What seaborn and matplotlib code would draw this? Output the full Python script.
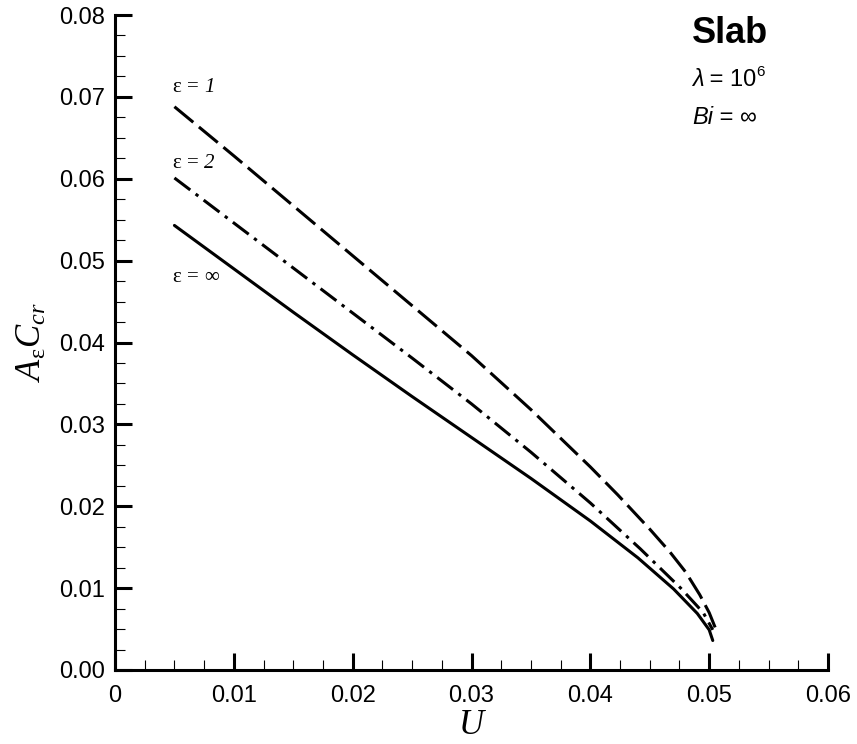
import numpy as np
import pandas as pd
import matplotlib
matplotlib.use("Agg")
import matplotlib.pyplot as plt
from matplotlib.ticker import MultipleLocator
import seaborn as sns

# === data ===
u_eps1 = [0.005, 0.010, 0.015, 0.020, 0.025, 0.030, 0.035, 0.040, 0.0423, 0.045, 0.0467, 0.048, 0.0492, 0.0500, 0.0505]
c_eps1 = [0.0688, 0.0628, 0.0567, 0.0506, 0.0445, 0.0384, 0.0318, 0.0248, 0.0214, 0.0172, 0.0144, 0.0120, 0.0092, 0.0070, 0.0052]

u_eps2 = [0.005, 0.010, 0.015, 0.020, 0.025, 0.030, 0.035, 0.040, 0.0442, 0.0476, 0.0495, 0.0503]
c_eps2 = [0.0601, 0.0546, 0.0491, 0.0436, 0.0381, 0.0325, 0.0266, 0.0204, 0.0148, 0.0100, 0.0070, 0.0049]

u_inf = [0.005, 0.010, 0.015, 0.020, 0.025, 0.030, 0.035, 0.040, 0.044, 0.047, 0.049, 0.0500, 0.0503]
c_inf = [0.0543, 0.0490, 0.0437, 0.0385, 0.0334, 0.0284, 0.0234, 0.0182, 0.0137, 0.0099, 0.0069, 0.0049, 0.0036]

eps_values = ["1", "2", "∞"]
label_pos = [(0.0049, 0.0712), (0.0049, 0.0619), (0.0049, 0.0479)]

x_ticks = [0, 0.01, 0.02, 0.03, 0.04, 0.05, 0.06]
x_ticklabels = ["0", "0.01", "0.02", "0.03", "0.04", "0.05", "0.06"]
y_ticks = [0.00, 0.01, 0.02, 0.03, 0.04, 0.05, 0.06, 0.07, 0.08]
y_ticklabels = ["0.00", "0.01", "0.02", "0.03", "0.04", "0.05", "0.06", "0.07", "0.08"]

# === style ===
sns.set_style("ticks")
plt.rcParams["font.family"] = ["Liberation Sans", "DejaVu Sans"]
plt.rcParams["text.color"] = "black"
plt.rcParams["axes.labelcolor"] = "black"
plt.rcParams["mathtext.fontset"] = "custom"
plt.rcParams["mathtext.rm"] = "Liberation Serif"
plt.rcParams["mathtext.it"] = "Liberation Serif:italic"

fig = plt.figure(figsize=(8.57, 7.44), dpi=100)
ax = fig.add_axes([0.1342, 0.0995, 0.832, 0.8803])

lw = 2.2
sns.lineplot(x=u_eps1, y=c_eps1, ax=ax, color="black", lw=lw, linestyle=(0, (8, 2.4)))
sns.lineplot(x=u_eps2, y=c_eps2, ax=ax, color="black", lw=lw, linestyle=(0, (6.5, 2.2, 1.1, 2.2)))
sns.lineplot(x=u_inf, y=c_inf, ax=ax, color="black", lw=lw, linestyle="-")

# curve labels: upright "ε =" then the value in italics
for val, (px, py) in zip(eps_values, label_pos):
    head = ax.text(px, py, "ε = ", fontsize=15, family="Liberation Serif", ha="left", va="center")
    ax.annotate(val, xy=(1, 0), xycoords=head, fontsize=15, family="Liberation Serif",
                style="italic" if val != "∞" else "normal", ha="left", va="bottom")

# === axes ===
ax.set_xlim(0, 0.06)
ax.set_ylim(0, 0.08)
ax.set_xticks(x_ticks)
ax.set_xticklabels(x_ticklabels)
ax.set_yticks(y_ticks)
ax.set_yticklabels(y_ticklabels)
ax.xaxis.set_minor_locator(MultipleLocator(0.0025))
ax.yaxis.set_minor_locator(MultipleLocator(0.0025))
ax.tick_params(which="major", direction="in", length=12, width=2.2, labelsize=17,
               color="black", labelcolor="black")
ax.tick_params(which="minor", direction="in", length=7, width=0.8, color="black")
ax.tick_params(axis="x", which="major", pad=11)
ax.tick_params(axis="y", which="major", pad=7)

sns.despine(ax=ax)
for side in ["left", "bottom"]:
    ax.spines[side].set_linewidth(2.2)
    ax.spines[side].set_color("black")

ax.set_xlabel("U", fontsize=25, family="Liberation Serif", style="italic", labelpad=1)
ax.set_ylabel("$A_{\\mathrm{ε}}C_{cr}$", fontsize=25, labelpad=8)

# === annotation block top right ===
ax.text(0.809, 0.9725, "Slab", transform=ax.transAxes, fontsize=26, weight="bold",
        ha="left", va="center")
lam = ax.text(0.809, 0.9008, "λ", transform=ax.transAxes, fontsize=17, style="italic",
              ha="left", va="center")
ten = ax.annotate(" = 10", xy=(1, 0), xycoords=lam, fontsize=17, ha="left", va="bottom")
ax.annotate("6", xy=(1, 1), xycoords=ten, xytext=(0, 3), textcoords="offset points",
            fontsize=11, ha="left", va="top")
bi = ax.text(0.809, 0.8443, "Bi", transform=ax.transAxes, fontsize=17, style="italic",
             ha="left", va="center")
ax.annotate(" = ∞", xy=(1, 0), xycoords=bi, fontsize=17, ha="left", va="bottom")

fig.savefig("out.png", dpi=100)
